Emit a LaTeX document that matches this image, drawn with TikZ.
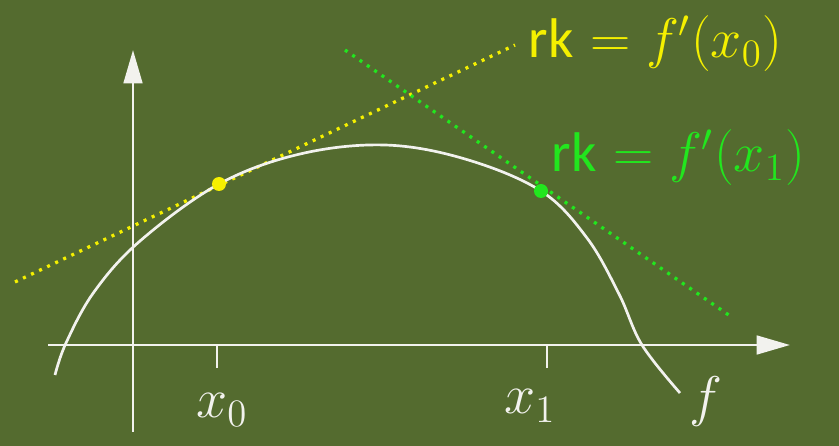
\documentclass[tikz,border=0pt]{standalone}
\usepackage{fontspec}
\setsansfont{Carlito}
\usetikzlibrary{arrows.meta}
\definecolor{board}{HTML}{546B2F}
\definecolor{chalk}{HTML}{F2F2EE}
\definecolor{lemon}{HTML}{F5F000}
\definecolor{lime}{HTML}{22E61E}

\begin{document}
\begin{tikzpicture}[
  x=0.3mm, y=-0.3mm,
  >={Triangle[length=10mm,width=5.6mm]},
  axis/.style={->, draw=chalk, line width=2.3pt},
  graph/.style={draw=chalk, line width=2.3pt},
  tangent/.style={line width=2.8pt, dash pattern=on 2.6pt off 5pt},
  spot/.style={circle, inner sep=0pt, minimum size=4.2mm},
  lab/.style={font=\huge, scale=2.3, inner sep=0pt},
]
\fill[board] (0,0) rectangle (839,446);
\useasboundingbox (0,0) rectangle (839,446);

% axes
\coordinate (xa) at (48,345);
\coordinate (xb) at (790,345);
\coordinate (ya) at (133,432);
\coordinate (yb) at (133,50);
\draw[axis] (xa) -- (xb);
\draw[axis] (ya) -- (yb);

% ticks
\draw[graph] (217,345) -- (217,368);
\draw[graph] (547,345) -- (547,368);

% tangents
\coordinate (t0a) at (15,282);
\coordinate (t0b) at (515,45);
\coordinate (t1a) at (345,50);
\coordinate (t1b) at (733,318);
\draw[tangent, draw=lemon] (t0a) -- (t0b);
\draw[tangent, draw=lime] (t1a) -- (t1b);

% the function
\draw[graph] plot[smooth, tension=0.6] coordinates {
  (55,375) (66,343) (94,292) (140,241) (219,184) (300,154) (385,145)
  (465,159) (541,191) (587,238) (619,294) (642,345) (680,393)};

\node[spot, fill=lemon] (p0) at (219,184) {};
\node[spot, fill=lime] (p1) at (541,191) {};

% labels
\node[lab, text=lemon, anchor=west] (r0) at (528,44) {\textsf{rk} $= f'(x_0)$};
\node[lab, text=lime, anchor=west] (r1) at (551,158) {\textsf{rk} $= f'(x_1)$};
\node[lab, text=chalk] (l0) at (222,410) {$x_0$};
\node[lab, text=chalk] (l1) at (530,406) {$x_1$};
\node[lab, text=chalk] (lf) at (706,402) {$f$};
\end{tikzpicture}
\end{document}
